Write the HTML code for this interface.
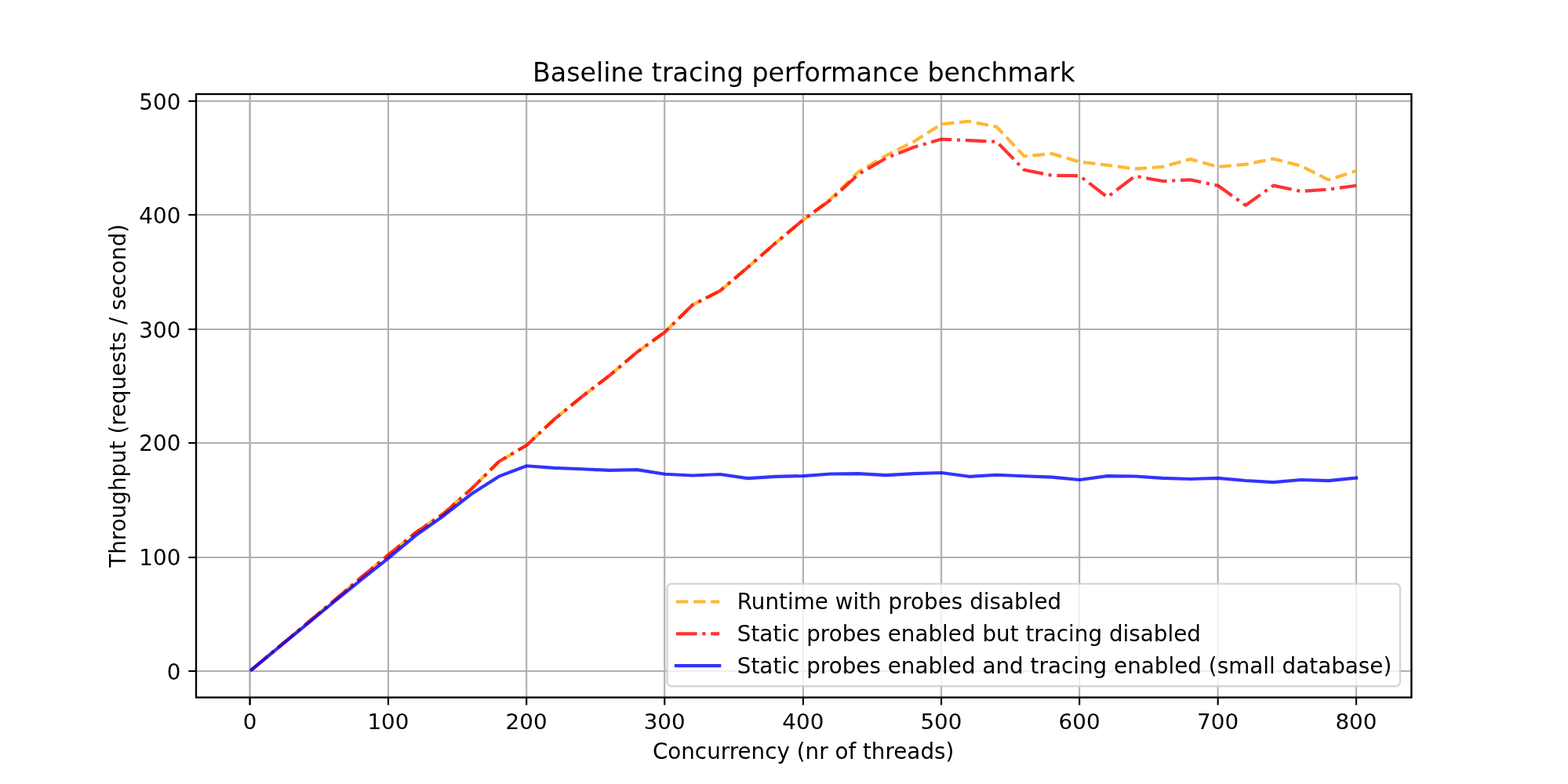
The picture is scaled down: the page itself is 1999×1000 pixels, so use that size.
<!DOCTYPE html>
<html lang="en"><head><meta charset="utf-8"><title>Baseline tracing performance benchmark</title>
<style>html,body{margin:0;padding:0;background:#fff;}body{width:1999px;height:1000px;overflow:hidden;}svg{display:block;}text{font-family:"DejaVu Sans","Liberation Sans",sans-serif;fill:#000;}</style></head><body>
<svg width="1999" height="1000" viewBox="0 0 1999 1000">
<rect x="0" y="0" width="1999" height="1000" fill="#ffffff"/>
<g stroke="#b0b0b0" stroke-width="2.15" fill="none">
<line x1="318.60" y1="120.00" x2="318.60" y2="889.60" stroke-width="2.5"/>
<line x1="495.00" y1="120.00" x2="495.00" y2="889.60"/>
<line x1="671.20" y1="120.00" x2="671.20" y2="889.60"/>
<line x1="847.25" y1="120.00" x2="847.25" y2="889.60"/>
<line x1="1023.90" y1="120.00" x2="1023.90" y2="889.60"/>
<line x1="1200.05" y1="120.00" x2="1200.05" y2="889.60"/>
<line x1="1376.15" y1="120.00" x2="1376.15" y2="889.60"/>
<line x1="1552.65" y1="120.00" x2="1552.65" y2="889.60"/>
<line x1="1729.05" y1="120.00" x2="1729.05" y2="889.60"/>
<line x1="250.00" y1="856.00" x2="1799.40" y2="856.00"/>
<line x1="250.00" y1="711.00" x2="1799.40" y2="711.00"/>
<line x1="250.00" y1="565.00" x2="1799.40" y2="565.00"/>
<line x1="250.00" y1="420.00" x2="1799.40" y2="420.00"/>
<line x1="250.00" y1="274.00" x2="1799.40" y2="274.00"/>
<line x1="250.00" y1="129.00" x2="1799.40" y2="129.00"/>
</g>
<g stroke="#000" stroke-width="2.15" fill="none">
<line x1="318.60" y1="889.60" x2="318.60" y2="899.32" stroke-width="2.5"/>
<line x1="495.00" y1="889.60" x2="495.00" y2="899.32"/>
<line x1="671.20" y1="889.60" x2="671.20" y2="899.32"/>
<line x1="847.25" y1="889.60" x2="847.25" y2="899.32"/>
<line x1="1023.90" y1="889.60" x2="1023.90" y2="899.32"/>
<line x1="1200.05" y1="889.60" x2="1200.05" y2="899.32"/>
<line x1="1376.15" y1="889.60" x2="1376.15" y2="899.32"/>
<line x1="1552.65" y1="889.60" x2="1552.65" y2="899.32"/>
<line x1="1729.05" y1="889.60" x2="1729.05" y2="899.32"/>
<line x1="240.28" y1="856.00" x2="250.00" y2="856.00"/>
<line x1="240.28" y1="711.00" x2="250.00" y2="711.00"/>
<line x1="240.28" y1="565.00" x2="250.00" y2="565.00"/>
<line x1="240.28" y1="420.00" x2="250.00" y2="420.00"/>
<line x1="240.28" y1="274.00" x2="250.00" y2="274.00"/>
<line x1="240.28" y1="129.00" x2="250.00" y2="129.00"/>
</g>
<g fill="none" stroke-width="4.17" stroke-linejoin="round" stroke-opacity="0.8">
<polyline stroke="#ffa500" stroke-dasharray="15.4230 6.6694" points="320.41,854.55 353.91,826.48 389.17,796.82 424.43,767.31 459.69,737.21 494.95,707.98 530.21,678.90 565.47,654.91 600.73,623.65 635.99,589.19 671.25,567.67 706.51,534.96 741.77,506.02 777.03,478.98 812.29,449.03 847.55,423.44 882.81,388.98 918.07,370.95 953.33,340.99 988.59,310.02 1023.85,280.94 1059.11,253.61 1094.37,219.15 1129.63,198.36 1164.89,180.76 1200.15,158.37 1235.41,154.74 1270.67,161.86 1305.93,199.37 1341.19,196.03 1376.45,206.50 1411.71,210.57 1446.97,215.37 1482.23,212.75 1517.49,203.01 1552.75,212.75 1588.01,209.70 1623.27,202.57 1658.53,211.59 1693.79,229.33 1729.05,217.84"/>
<polyline stroke="#ff0000" stroke-dasharray="26.6589 6.6647 4.1654 6.6647" points="320.41,854.55 353.91,826.48 389.17,796.82 424.43,767.31 459.69,737.21 494.95,707.98 530.21,679.19 565.47,655.20 600.73,623.94 635.99,588.75 671.25,567.96 706.51,534.96 741.77,506.02 777.03,478.98 812.29,449.03 847.55,423.73 882.81,388.98 918.07,370.95 953.33,340.99 988.59,310.02 1023.85,280.51 1059.11,254.92 1094.37,222.35 1129.63,201.70 1164.89,187.74 1200.15,177.56 1235.41,179.16 1270.67,180.76 1305.93,216.82 1341.19,223.80 1376.45,224.24 1411.71,251.43 1446.97,224.53 1482.23,231.07 1517.49,229.33 1552.75,236.74 1588.01,261.90 1623.27,236.60 1658.53,244.01 1693.79,241.54 1729.05,236.74"/>
<polyline stroke="#0000ff" stroke-linecap="square" points="320.41,854.55 353.91,826.92 389.17,797.84 424.43,768.76 459.69,740.12 494.95,712.05 530.21,682.83 565.47,657.97 600.73,630.34 635.99,607.66 671.25,594.28 706.51,596.90 741.77,598.21 777.03,599.95 812.29,599.08 847.55,604.75 882.81,606.49 918.07,605.04 953.33,610.13 988.59,607.80 1023.85,607.08 1059.11,604.46 1094.37,604.17 1129.63,606.06 1164.89,604.17 1200.15,603.00 1235.41,607.80 1270.67,605.77 1305.93,607.22 1341.19,608.67 1376.45,612.02 1411.71,607.08 1446.97,607.51 1482.23,609.84 1517.49,611.00 1552.75,609.84 1588.01,613.04 1623.27,615.07 1658.53,612.02 1693.79,613.18 1729.05,609.55"/>
</g>
<rect x="250.00" y="120.00" width="1549.40" height="769.60" fill="none" stroke="#000" stroke-width="2.35"/>
<g font-size="27.78">
<text transform="translate(318.50,930.30) scale(1,0.980)" text-anchor="middle">0</text>
<text transform="translate(494.90,930.30) scale(1,0.980)" text-anchor="middle">100</text>
<text transform="translate(671.10,930.30) scale(1,0.980)" text-anchor="middle">200</text>
<text transform="translate(847.15,930.30) scale(1,0.980)" text-anchor="middle">300</text>
<text transform="translate(1023.80,930.30) scale(1,0.980)" text-anchor="middle">400</text>
<text transform="translate(1199.95,930.30) scale(1,0.980)" text-anchor="middle">500</text>
<text transform="translate(1376.05,930.30) scale(1,0.980)" text-anchor="middle">600</text>
<text transform="translate(1552.55,930.30) scale(1,0.980)" text-anchor="middle">700</text>
<text transform="translate(1728.95,930.30) scale(1,0.980)" text-anchor="middle">800</text>
<text transform="translate(230.30,867.10) scale(1,1.000)" text-anchor="end">0</text>
<text transform="translate(230.30,720.60) scale(1,1.000)" text-anchor="end">100</text>
<text transform="translate(230.30,575.40) scale(1,1.000)" text-anchor="end">200</text>
<text transform="translate(230.30,430.90) scale(1,1.000)" text-anchor="end">300</text>
<text transform="translate(230.30,284.60) scale(1,1.000)" text-anchor="end">400</text>
<text transform="translate(230.30,139.50) scale(1,1.000)" text-anchor="end">500</text>
<text transform="translate(1024.10,967.70) scale(1,0.995)" text-anchor="middle">Concurrency (nr of threads)</text>
<text transform="translate(160.10,504.80) rotate(-90) scale(1,0.990)" text-anchor="middle">Throughput (requests / second)</text>
</g>
<text transform="translate(1024.70,103.50) scale(1,1.010)" text-anchor="middle" font-size="33.33">Baseline tracing performance benchmark</text>
<rect x="850.60" y="744.60" width="934.40" height="130.65" rx="5.56" ry="5.56" fill="#ffffff" fill-opacity="0.8" stroke="#cccccc" stroke-opacity="0.8" stroke-width="2.45"/>
<g fill="none" stroke-width="4.17" stroke-opacity="0.8">
<line x1="862.00" y1="767.50" x2="917.20" y2="767.50" stroke="#ffa500" stroke-dasharray="15.4230 6.6694"/>
<line x1="862.00" y1="808.30" x2="917.20" y2="808.30" stroke="#ff0000" stroke-dasharray="26.6589 6.6647 4.1654 6.6647"/>
<line x1="862.00" y1="849.20" x2="917.20" y2="849.20" stroke="#0000ff" stroke-linecap="square"/>
</g>
<g font-size="27.78">
<text transform="translate(939.80,776.60) scale(1,1.000)" letter-spacing="0.020">Runtime with probes disabled</text>
<text transform="translate(939.80,817.70) scale(1,1.000)" letter-spacing="0.020">Static probes enabled but tracing disabled</text>
<text transform="translate(939.80,858.50) scale(1,1.000)" letter-spacing="0.020">Static probes enabled and tracing enabled (small database)</text>
</g>
</svg></body></html>
